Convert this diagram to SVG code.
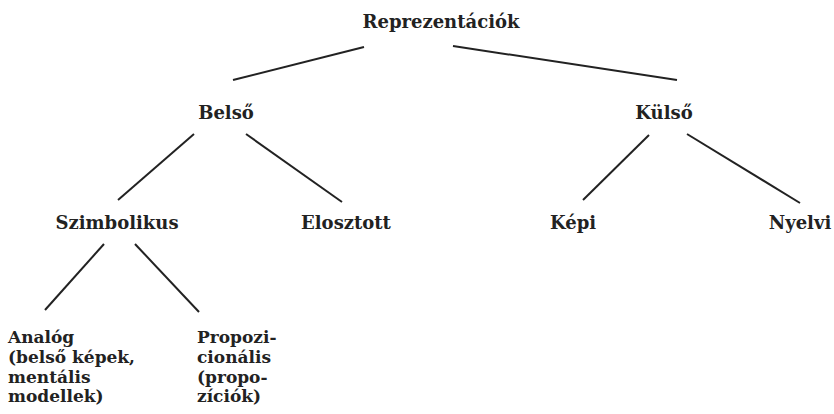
<svg xmlns="http://www.w3.org/2000/svg" width="834" height="414" viewBox="0 0 834 414">
<style>
text{font-family:"DejaVu Serif","Liberation Serif",serif;font-weight:bold;font-size:18px;fill:#222}
.c{text-anchor:middle}
.m{font-size:17px}
line{stroke:#222;stroke-width:2;stroke-linecap:butt}
</style>
<rect width="834" height="414" fill="#fff"/>
<g id="connectors">
<line x1="364" y1="47" x2="233" y2="80"/>
<line x1="453" y1="46" x2="677" y2="80"/>
<line x1="194" y1="134" x2="118" y2="200"/>
<line x1="246" y1="134" x2="342" y2="202"/>
<line x1="649" y1="135" x2="583" y2="200"/>
<line x1="687" y1="134" x2="800" y2="203"/>
<line x1="104" y1="244" x2="45" y2="310"/>
<line x1="135" y1="244" x2="199" y2="312"/>
</g>
<g id="n-reprezentaciok"><text class="c" x="441" y="28">Reprezentációk</text></g>
<g id="n-belso"><text class="c" x="226" y="119">Belső</text></g>
<g id="n-kulso"><text class="c" x="664" y="119">Külső</text></g>
<g id="n-szimbolikus"><text class="c" x="117" y="229">Szimbolikus</text></g>
<g id="n-elosztott"><text class="c" x="346" y="229">Elosztott</text></g>
<g id="n-kepi"><text class="c" x="573" y="229">Képi</text></g>
<g id="n-nyelvi"><text class="c" x="800" y="229">Nyelvi</text></g>
<g id="n-analog"><text class="m" x="8" y="343">Analóg<tspan x="8" dy="19.8">(belső képek,</tspan><tspan x="8" dy="19.8">mentális</tspan><tspan x="8" dy="19.8">modellek)</tspan></text></g>
<g id="n-propozicionalis"><text class="m" x="197" y="343">Propozi-<tspan x="197" dy="19.8">cionális</tspan><tspan x="197" dy="19.8">(propo-</tspan><tspan x="197" dy="19.8">zíciók)</tspan></text></g>
</svg>
